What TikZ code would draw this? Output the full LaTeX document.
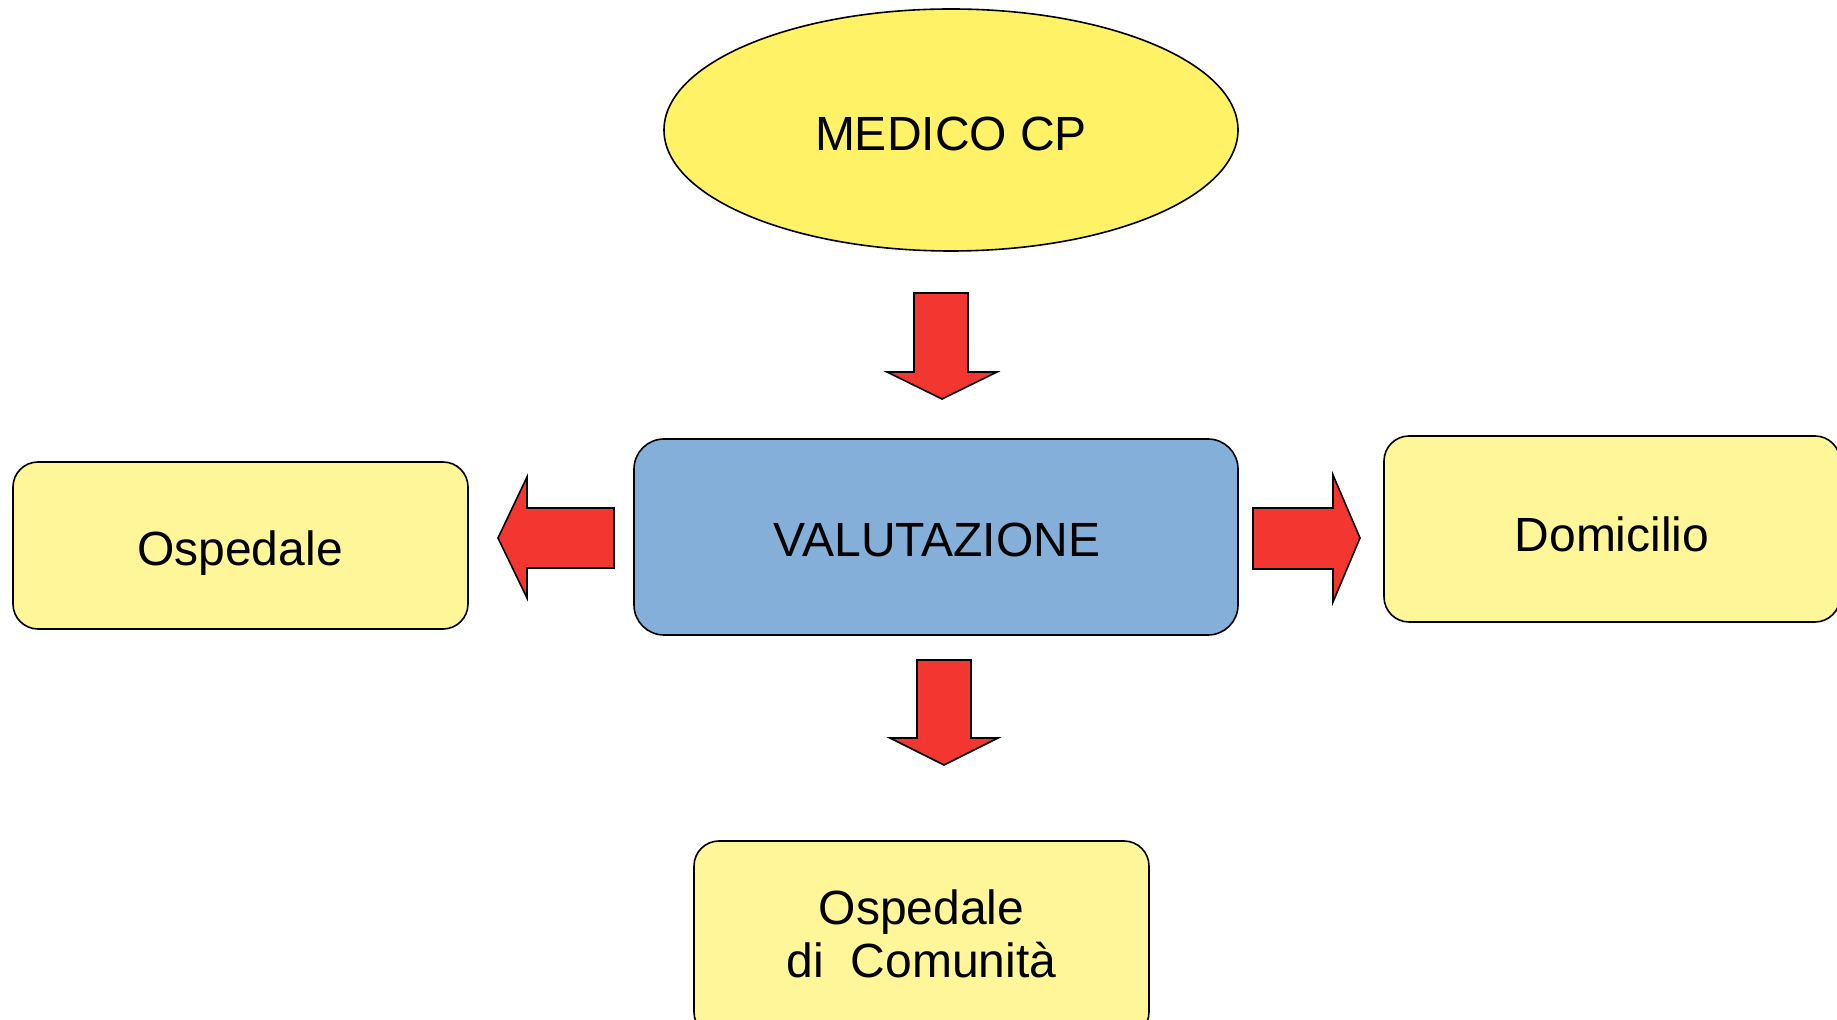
\documentclass[tikz,border=0pt]{standalone}
\usepackage{fontspec}
\setmainfont{Liberation Sans}
\usetikzlibrary{shapes.geometric}
\definecolor{ovalyellow}{HTML}{FFF266}
\definecolor{boxyellow}{HTML}{FFF599}
\definecolor{boxblue}{HTML}{84AFD9}
\definecolor{arrowred}{HTML}{F43631}
\tikzset{
  lbl/.style={font=\fontsize{24}{26.2}\selectfont, align=center, text=black},
  outline/.style={draw=black, line width=0.8pt},
  destbox/.style={outline, fill=boxyellow, rounded corners=12.5pt, inner sep=0pt},
  blockarrow/.style={outline, fill=arrowred, line join=miter},
}
\begin{document}
\begin{tikzpicture}[x=0.5pt, y=-0.5pt]
  \useasboundingbox (0,0) rectangle (1837,1020);
  \clip (0,0) rectangle (1837,1020);
  \fill[white] (0,0) rectangle (1837,1020);

  % central decision node and its source
  \node[outline, ellipse, fill=ovalyellow, minimum width=287pt, minimum height=121pt, inner sep=0pt]
    (medico) at (951,130) {};
  \node[lbl] (medicot) at (951,134) {MEDICO CP};
  \node[outline, fill=boxblue, rounded corners=15pt, minimum width=302pt, minimum height=98pt, inner sep=0pt]
    (valut) at (936,537) {};
  \node[lbl] (valutt) at (937,540) {VALUTAZIONE};

  % possible destinations
  \node[destbox, minimum width=227.5pt, minimum height=83.5pt] (osp) at (240.5,545.5) {};
  \node[lbl] (ospt) at (240,553) {Ospedale};
  \node[destbox, minimum width=228pt, minimum height=93pt] (dom) at (1612,529) {};
  \node[lbl] (domt) at (1612,534) {Domicilio};
  \node[destbox, minimum width=227.5pt, minimum height=98pt] (odc) at (921.5,939) {};
  \node[lbl] (odct) at (921.5,934) {Ospedale\\di\ \ Comunità};

  % block arrows
  \draw[blockarrow] (914,293) -- (968,293) -- (968,372) -- (997,372) -- (942,399)
    -- (887,372) -- (914,372) -- cycle;
  \draw[blockarrow] (917,660) -- (971,660) -- (971,738) -- (998,738) -- (944,765)
    -- (890,738) -- (917,738) -- cycle;
  \draw[blockarrow] (614,508) -- (527,508) -- (527,477) -- (498,538) -- (527,598)
    -- (527,568) -- (614,568) -- cycle;
  \draw[blockarrow] (1253,508) -- (1333,508) -- (1333,475) -- (1360,538) -- (1333,602)
    -- (1333,569) -- (1253,569) -- cycle;
\end{tikzpicture}
\end{document}
